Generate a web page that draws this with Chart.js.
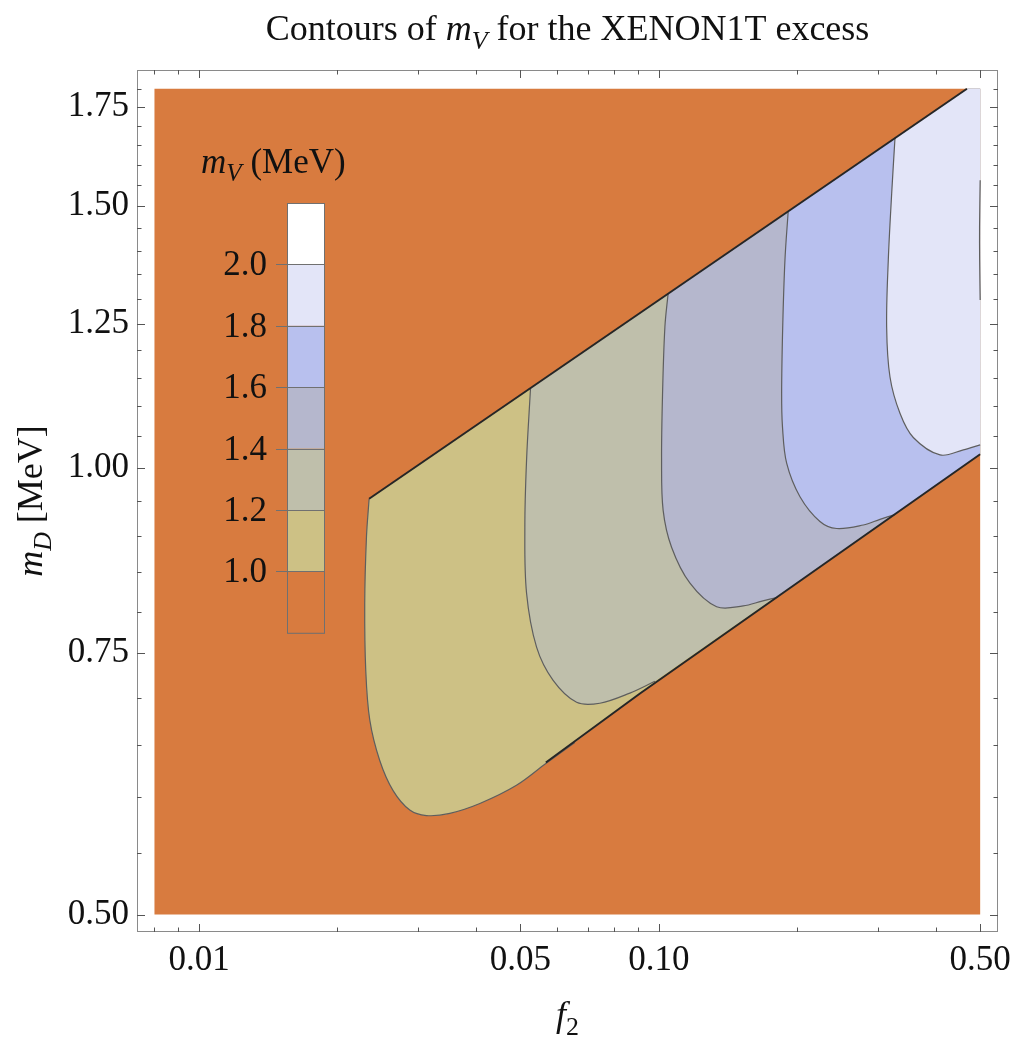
<!DOCTYPE html>
<html>
<head>
<meta charset="utf-8">
<script src="https://cdn.jsdelivr.net/npm/chart.js@4.4.1/dist/chart.umd.min.js"></script>
<style>
  html, body { margin: 0; padding: 0; background: #fff; }
  canvas { display: block; }
</style>
</head>
<body>
<canvas id="c" width="1017" height="1039"></canvas>
<script>
// === data ===
const xRange = [0.008, 0.5];   // f2 range of the filled plot
const yRange = [0.5, 1.8];     // mD range of the filled plot

const levels = [1.0, 1.2, 1.4, 1.6, 1.8, 2.0];
const levelColors = ["#D87B3F", "#CDC185", "#BFBFAB", "#B5B7CD", "#B8C0EE", "#E3E5F8", "#FFFFFF"];

// edges of the band where a solution exists
const upperEdge = [[0.02344, 0.953], [0.468, 1.80]];
const lowerEdge = [[0.0568, 0.633], [0.0910, 0.7045], [0.5, 1.021]];

// contour curves [f2, mD]
const contour10 = [[0.02344, 0.953], [0.02313, 0.898], [0.02293, 0.810], [0.02305, 0.730], [0.02352, 0.676],
  [0.02472, 0.635], [0.02643, 0.606], [0.02873, 0.588], [0.03124, 0.583], [0.03512, 0.585],
  [0.04081, 0.594], [0.04903, 0.611], [0.0568, 0.632], [0.06567, 0.653]];
const contour12 = [[0.05261, 1.132], [0.05157, 1.012], [0.05113, 0.912], [0.05157, 0.823], [0.05422, 0.757],
  [0.05891, 0.719], [0.06625, 0.695], [0.07444, 0.694], [0.08652, 0.705], [0.09806, 0.718]];
const contour14 = [[0.1048, 1.311], [0.1031, 1.244], [0.1019, 1.122], [0.1014, 1.012], [0.1022, 0.936],
  [0.1066, 0.884], [0.1169, 0.836], [0.1336, 0.806], [0.1526, 0.807], [0.1676, 0.813], [0.1816, 0.818]];
const contour16 = [[0.1912, 1.489], [0.1881, 1.380], [0.1860, 1.244], [0.1850, 1.122], [0.1858, 1.065],
  [0.1897, 1.007], [0.2028, 0.956], [0.2241, 0.920], [0.2437, 0.910], [0.2785, 0.915], [0.3027, 0.923], [0.3264, 0.930]];
const contour18 = [[0.3264, 1.668], [0.3210, 1.530], [0.3156, 1.380], [0.3130, 1.244], [0.3183, 1.151],
  [0.3346, 1.088], [0.3577, 1.048], [0.4090, 1.020], [0.4596, 1.028], [0.5, 1.036]];
const contour20 = [[0.5, 1.562], [0.4985, 1.453], [0.4987, 1.380], [0.5, 1.297]];
const contours = [contour10, contour12, contour14, contour16, contour18, contour20];

// ticks
const xTicks = [0.008, 0.009, 0.01, 0.02, 0.03, 0.04, 0.05, 0.06, 0.07, 0.08, 0.09, 0.1, 0.2, 0.3, 0.4, 0.5];
const xMajor = [0.01, 0.05, 0.1, 0.5];
const xLabels = ["0.01", "0.05", "0.10", "0.50"];
const yTicks = [0.5, 0.55, 0.6, 0.65, 0.7, 0.75, 0.8, 0.85, 0.9, 0.95, 1.0, 1.05, 1.1, 1.15, 1.2,
  1.25, 1.3, 1.35, 1.4, 1.45, 1.5, 1.55, 1.6, 1.65, 1.7, 1.75, 1.8];
const yMajor = [0.5, 0.75, 1.0, 1.25, 1.5, 1.75];
const yLabels = ["0.50", "0.75", "1.00", "1.25", "1.50", "1.75"];

const SERIF = "'Liberation Serif', 'Times New Roman', serif";
const TENSION = 0.35;

// === helpers ===
const pts = (arr) => arr.map(p => ({ x: p[0], y: p[1] }));
// a doubled point gives a sharp corner with straight neighbours when tension is on
const corner = (p) => [p, p];

// region above a level: contour, then lower edge, right side, top corner, back along upper edge
function region(c) {
  const end = c[c.length - 1];
  let out = c.concat([end]);
  lowerEdge.forEach(p => { if (p[0] > end[0] + 1e-9) out = out.concat(corner(p)); });
  out = out.concat(corner([xRange[1], yRange[1]]), corner(upperEdge[1]));
  return out;
}

function fillSet(data, color, order, tension) {
  return { data: pts(data), showLine: true, fill: "shape", backgroundColor: color,
    borderWidth: 0, pointRadius: 0, tension: tension, order: order };
}
function lineSet(data, color, width, order, tension) {
  return { data: pts(data), showLine: true, fill: false, borderColor: color,
    borderWidth: width, pointRadius: 0, tension: tension, order: order };
}

// text with italic / subscript pieces
function richText(ctx, parts, x, y, size, align) {
  const font = (p) => (p.i ? "italic " : "") + (p.sub ? size * 0.72 : size) + "px " + SERIF;
  let w = 0;
  parts.forEach(p => { ctx.font = font(p); w += ctx.measureText(p.t).width; });
  let cx = align === "center" ? x - w / 2 : align === "right" ? x - w : x;
  ctx.textAlign = "left";
  ctx.textBaseline = "alphabetic";
  parts.forEach(p => {
    ctx.font = font(p);
    ctx.fillText(p.t, cx, y + (p.sub ? size * 0.24 : 0));
    cx += ctx.measureText(p.t).width;
  });
}

// === datasets ===
const datasets = [];
const bgRect = [[xRange[0], yRange[0]], [xRange[1], yRange[0]], [xRange[1], yRange[1]], [xRange[0], yRange[1]]];
datasets.push(fillSet(bgRect, levelColors[0], 30, 0));
for (let i = 0; i < 5; i++) datasets.push(fillSet(region(contours[i]), levelColors[i + 1], 29 - i, TENSION));
datasets.push(fillSet(contour20, levelColors[6], 24, TENSION));
contours.forEach(c => datasets.push(lineSet(c, "#5e5e5e", 1.2, 10, TENSION)));
datasets.push(lineSet(upperEdge, "#262626", 2, 5, 0));
datasets.push(lineSet(lowerEdge, "#262626", 2, 5, 0));

// === frame, inward ticks, titles, legend ===
const decor = {
  id: "decor",
  afterDraw(chart) {
    const { ctx, chartArea: a, scales: { x, y } } = chart;
    ctx.save();
    ctx.strokeStyle = "#8a8a8a";
    ctx.lineWidth = 1;
    ctx.strokeRect(a.left + 0.5, a.top + 0.5, a.right - a.left - 1, a.bottom - a.top - 1);
    ctx.strokeStyle = "#555";
    ctx.beginPath();
    x.ticks.forEach(t => {
      const px = Math.round(x.getPixelForValue(t.value)) + 0.5;
      const len = t.label ? 8 : 4.5;
      ctx.moveTo(px, a.bottom); ctx.lineTo(px, a.bottom - len);
      ctx.moveTo(px, a.top); ctx.lineTo(px, a.top + len);
    });
    y.ticks.forEach(t => {
      const py = Math.round(y.getPixelForValue(t.value)) + 0.5;
      const len = t.label ? 8 : 4.5;
      ctx.moveTo(a.left, py); ctx.lineTo(a.left + len, py);
      ctx.moveTo(a.right, py); ctx.lineTo(a.right - len, py);
    });
    ctx.stroke();

    ctx.fillStyle = "#111";
    // title
    richText(ctx, [{ t: "Contours of " }, { t: "m", i: true }, { t: "V", i: true, sub: true },
      { t: " for the XENON1T excess" }], (a.left + a.right) / 2, 40, 36, "center");
    // x axis title
    richText(ctx, [{ t: "f", i: true }, { t: "2", sub: true }], (a.left + a.right) / 2, 1026, 36, "center");
    // y axis title
    ctx.save();
    ctx.translate(42, (a.top + a.bottom) / 2);
    ctx.rotate(-Math.PI / 2);
    richText(ctx, [{ t: "m", i: true }, { t: "D", i: true, sub: true }, { t: " [MeV]" }], 0, 0, 36, "center");
    ctx.restore();

    // legend
    const lx = a.left + 150, lw = 37, top = a.top + 133, rowH = 61.4;
    richText(ctx, [{ t: "m", i: true }, { t: "V", i: true, sub: true }, { t: " (MeV)" }], a.left + 64, 173, 35, "left");
    const n = levelColors.length;
    for (let k = 0; k < n; k++) {
      ctx.fillStyle = levelColors[n - 1 - k];
      ctx.fillRect(lx, top + k * rowH, lw, rowH);
    }
    ctx.strokeStyle = "#707070";
    ctx.lineWidth = 1;
    ctx.strokeRect(lx + 0.5, top + 0.5, lw, rowH * n);
    ctx.beginPath();
    ctx.fillStyle = "#111";
    ctx.font = "35px " + SERIF;
    ctx.textAlign = "right";
    ctx.textBaseline = "middle";
    for (let k = 0; k < levels.length; k++) {
      const ry = Math.round(top + (levels.length - k) * rowH) + 0.5;
      ctx.moveTo(lx - 11, ry); ctx.lineTo(lx + lw, ry);
      ctx.fillText(levels[k].toFixed(1), lx - 20, ry + 1);
    }
    ctx.stroke();
    ctx.restore();
  }
};

new Chart(document.getElementById("c"), {
  type: "scatter",
  data: { datasets },
  options: {
    responsive: false,
    animation: false,
    layout: { padding: { top: 70, right: 19, left: 0, bottom: 0 } },
    plugins: { legend: { display: false }, tooltip: { enabled: false } },
    scales: {
      x: {
        type: "logarithmic",
        min: 0.00733, max: 0.5467,
        grid: { display: false },
        border: { display: false },
        afterBuildTicks: (s) => { s.ticks = xTicks.map(v => ({ value: v })); },
        afterFit: (s) => { s.height = 107; },
        ticks: {
          autoSkip: false, maxRotation: 0, padding: 0, color: "#111",
          font: { family: SERIF, size: 35 },
          callback: (v) => { const i = xMajor.indexOf(v); return i < 0 ? "" : xLabels[i]; }
        }
      },
      y: {
        type: "logarithmic",
        min: 0.4867, max: 1.853,
        grid: { display: false },
        border: { display: false },
        afterBuildTicks: (s) => { s.ticks = yTicks.map(v => ({ value: v })); },
        afterFit: (s) => { s.width = 137; },
        ticks: {
          autoSkip: false, padding: 0, color: "#111",
          font: { family: SERIF, size: 35 },
          callback: (v) => { const i = yMajor.indexOf(v); return i < 0 ? "" : yLabels[i]; }
        }
      }
    }
  },
  plugins: [decor]
});
</script>
</body>
</html>
